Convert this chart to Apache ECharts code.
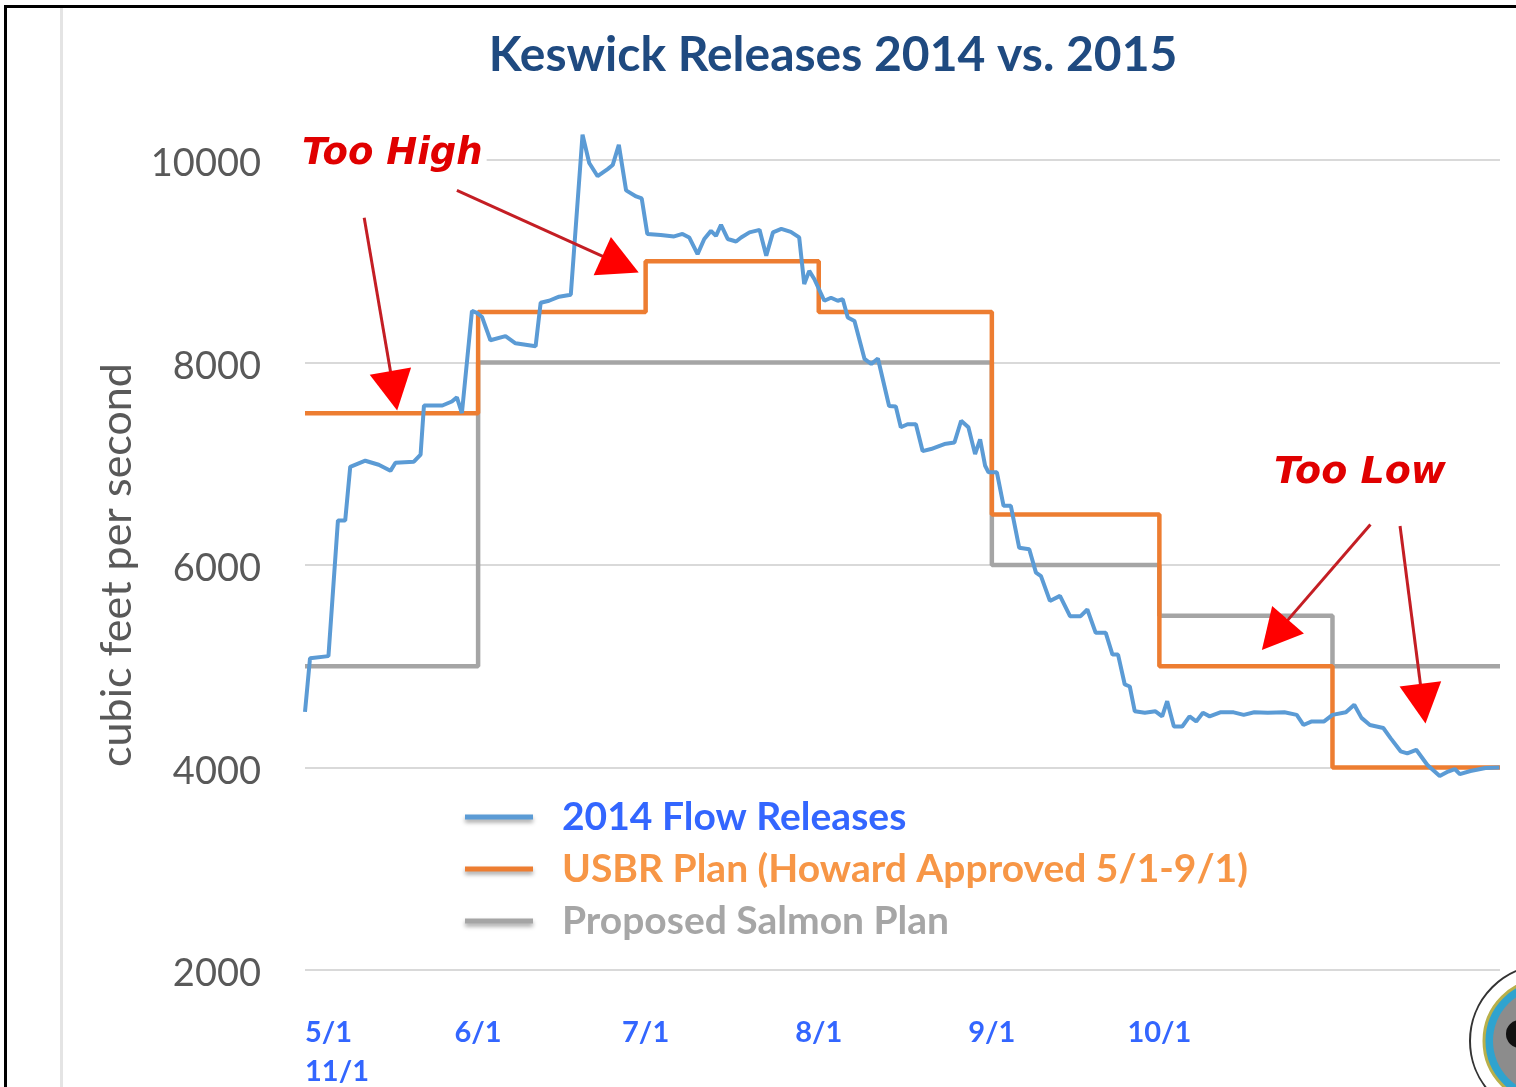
<!DOCTYPE html>
<html>
<head>
<meta charset="utf-8">
<title>Keswick Releases 2014 vs. 2015</title>
<script src="https://cdn.jsdelivr.net/npm/echarts@6/dist/echarts.min.js"></script>
<style>
    html, body { margin: 0; padding: 0; background: #fff; }
    #keswick_chart { width: 1516px; height: 1087px; }
</style>
</head>
<body>
<div id="keswick_chart"></div>
<script>
// x = days counted from 5/1
var tickDays = [0, 31, 61, 92, 123, 153];
var tickLabels = ['5/1\n11/1', '6/1', '7/1', '8/1', '9/1', '10/1'];

// 2014 flow releases
var flowDays = [0, 0.9, 4.2, 5.9, 7.2, 8.1, 10.8, 13.2, 15.3, 16.2, 19.5, 20.7, 21.3, 24.6, 26.3, 27.2, 28.1, 29.9, 30.8, 31.7,
    33.2, 35.9, 37.7, 41.3, 42.2, 43.7, 45.5, 47.6, 49.7, 50.9, 52.4, 54.2, 55.1, 56.2, 57.5, 59.3, 60.3, 61.3, 63.7, 66.1,
    67.6, 68.8, 70.3, 71.5, 72.7, 73.6, 74.5, 75.7, 77.2, 78.1, 79.6, 81.4, 82.6, 83.8, 85.3, 87.0, 88.5, 89.4, 90.3, 91.2,
    93.0, 94.2, 95.4, 96.3, 97.2, 98.4, 100.2, 101.4, 102.6, 104.6, 105.8, 106.7, 107.9, 109.4, 110.6, 112.1, 114.5, 116.3, 117.5, 118.8,
    120.0, 120.9, 121.8, 122.4, 123.9, 125.1, 126.4, 127.9, 129.7, 130.9, 131.8, 133.4, 135.2, 137.0, 138.9, 140.1, 141.6, 143.4, 144.6, 145.6,
    146.8, 147.7, 148.6, 150.4, 152.3, 153.5, 154.4, 155.6, 157.1, 158.4, 159.6, 160.8, 162.0, 163.9, 166.3, 168.1, 170.0, 172.4, 175.4, 177.6,
    178.8, 180.3, 182.5, 184.0, 186.4, 187.9, 189.2, 190.7, 193.1, 194.4, 196.2, 197.4, 199.0, 201.0, 203.2, 204.7, 205.9, 206.8, 208.7, 211.4, 213.9];
var flowCfs = [4550, 5080, 5100, 6440, 6440, 6970, 7030, 6990, 6930, 7010, 7020, 7090, 7575, 7575, 7615, 7655, 7500, 8510, 8490, 8450,
    8220, 8260, 8190, 8160, 8590, 8610, 8650, 8670, 10250, 9970, 9840, 9910, 9950, 10150, 9700, 9640, 9620, 9270, 9260, 9245,
    9270, 9235, 9070, 9220, 9300, 9250, 9360, 9220, 9195, 9235, 9285, 9310, 9055, 9285, 9320, 9290, 9235, 8775, 8905, 8825,
    8610, 8640, 8610, 8625, 8445, 8410, 8035, 7985, 8040, 7570, 7565, 7360, 7390, 7390, 7125, 7145, 7195, 7210, 7425, 7360,
    7095, 7240, 6980, 6915, 6915, 6585, 6585, 6170, 6155, 5925, 5890, 5645, 5695, 5495, 5495, 5560, 5330, 5330, 5115, 5115,
    4820, 4800, 4555, 4540, 4555, 4505, 4655, 4405, 4405, 4505, 4455, 4540, 4505, 4545, 4545, 4520, 4545, 4540, 4545, 4520,
    4420, 4455, 4455, 4520, 4545, 4620, 4490, 4420, 4390, 4290, 4160, 4140, 4175, 4025, 3915, 3960, 3985, 3935, 3965, 3995, 4000];

// monthly plans (5/1 .. 12/1)
var usbrDays = [0, 31, 61, 92, 123, 153, 184, 214];
var usbrCfs = [7500, 8500, 9000, 8500, 6500, 5000, 4000, 4000];
var salmonDays = [0, 31, 123, 153, 184, 214];
var salmonCfs = [5000, 8000, 6000, 5500, 5000, 5000];

function pairs(xs, ys) {
    return xs.map(function (x, i) { return [x, ys[i]]; });
}

// red annotation arrows, [day, cfs] from shaft start to head centre
var arrows = [
    { from: [10.6, 9430], to: [15.9, 7720] },
    { from: [27.2, 9700], to: [56.5, 8970] },
    { from: [190.8, 6400], to: [173.7, 5310] },
    { from: [196.1, 6385], to: [200.2, 4630] }
];

var keswick_el = document.getElementById('keswick_chart');
var keswick_chart = echarts.init(keswick_el);

var option = {
    animation: false,
    title: {
        text: 'Keswick Releases 2014 vs. 2015',
        left: 828,
        top: 27,
        textAlign: 'center',
        textStyle: {
            color: '#1F4A80',
            fontSize: 48,
            fontWeight: 'bold',
            fontFamily: 'Lato'
        }
    },
    legend: {
        orient: 'vertical',
        left: 460,
        top: 792,
        icon: 'rect',
        itemWidth: 68,
        itemHeight: 5,
        itemGap: 12,
        selectedMode: false,
        itemStyle: {
            shadowBlur: 4,
            shadowColor: 'rgba(0,0,0,0.35)',
            shadowOffsetY: 3
        },
        textStyle: {
            fontFamily: 'Lato',
            fontSize: 39,
            fontWeight: 'bold',
            lineHeight: 40,
            padding: [0, 0, 0, 24]
        },
        data: [
            { name: '2014 Flow Releases', textStyle: { color: '#3366FF' } },
            { name: 'USBR Plan (Howard Approved 5/1-9/1)', textStyle: { color: '#F79646' } },
            { name: 'Proposed Salmon Plan', textStyle: { color: '#A6A6A6' } }
        ]
    },
    grid: {
        left: 305,
        right: 16,
        top: 160,
        bottom: 117,
        outerBoundsMode: 'none'
    },
    xAxis: {
        type: 'value',
        min: 0,
        max: 214,
        axisLine: { show: false },
        axisTick: { show: false },
        splitLine: { show: false },
        axisLabel: {
            customValues: tickDays,
            alignMinLabel: 'left',
            formatter: function (v) {
                var i = tickDays.indexOf(v);
                return i < 0 ? '' : tickLabels[i];
            },
            color: '#3366FF',
            fontSize: 29,
            fontWeight: 'bold',
            fontFamily: 'Lato',
            lineHeight: 39,
            margin: 43
        }
    },
    yAxis: {
        type: 'value',
        min: 2000,
        max: 10000,
        interval: 2000,
        name: 'cubic feet per second',
        nameLocation: 'middle',
        nameGap: 166,
        nameTextStyle: {
            color: '#595959',
            fontSize: 43,
            fontFamily: 'Lato'
        },
        axisLine: { show: false },
        axisTick: { show: false },
        axisLabel: {
            formatter: function (v) { return '{n|' + v + '}'; },
            margin: 44,
            rich: {
                n: {
                    color: '#595959',
                    fontSize: 38,
                    fontFamily: 'Lato',
                    padding: [8, 0, 0, 0]
                }
            }
        },
        splitLine: {
            lineStyle: { color: '#D9D9D9', width: 2 }
        }
    },
    graphic: [
        // slide frame
        { type: 'rect', shape: { x: 4, y: 5, width: 1512, height: 3 }, style: { fill: '#000' }, silent: true },
        { type: 'rect', shape: { x: 4, y: 5, width: 3, height: 1082 }, style: { fill: '#000' }, silent: true },
        { type: 'rect', shape: { x: 60, y: 8, width: 3, height: 1079 }, style: { fill: '#E4E4E4' }, silent: true },
        {
            type: 'text', left: 300, top: 134, silent: true, z: 10,
            style: {
                text: 'Too High', fill: '#E00000', font: 'italic bold 37px "DejaVu Sans"',
                backgroundColor: '#fff', padding: [2, 4, 2, 2]
            }
        },
        {
            type: 'text', left: 1274, top: 454, silent: true, z: 10,
            style: { text: 'Too Low', fill: '#E00000', font: 'italic bold 38px "DejaVu Sans"' }
        },
        // corner seal
        { type: 'circle', shape: { cx: 1546, cy: 1041, r: 76 }, style: { fill: '#fff', stroke: '#333', lineWidth: 2 }, silent: true },
        { type: 'circle', shape: { cx: 1546, cy: 1041, r: 62 }, style: { fill: '#2FA3CF', stroke: '#B9B04A', lineWidth: 3 }, silent: true },
        { type: 'circle', shape: { cx: 1546, cy: 1041, r: 53 }, style: { fill: '#8C8C8C' }, silent: true },
        { type: 'circle', shape: { cx: 1520, cy: 1034, r: 14 }, style: { fill: '#111' }, silent: true }
    ],
    series: [
        {
            name: 'Proposed Salmon Plan',
            type: 'line',
            step: 'end',
            data: pairs(salmonDays, salmonCfs),
            showSymbol: false,
            itemStyle: { color: '#A5A5A5' },
            lineStyle: { color: '#A5A5A5', width: 4.5 },
            z: 2
        },
        {
            name: 'USBR Plan (Howard Approved 5/1-9/1)',
            type: 'line',
            step: 'end',
            data: pairs(usbrDays, usbrCfs),
            showSymbol: false,
            itemStyle: { color: '#ED7D31' },
            lineStyle: { color: '#ED7D31', width: 4.5 },
            z: 3
        },
        {
            name: '2014 Flow Releases',
            type: 'line',
            data: pairs(flowDays, flowCfs),
            showSymbol: false,
            clip: false,
            itemStyle: { color: '#5B9BD5' },
            lineStyle: { color: '#5B9BD5', width: 4 },
            z: 4
        },
        {
            name: 'arrowShafts',
            type: 'line',
            data: [],
            z: 5,
            markLine: {
                silent: true,
                symbol: ['none', 'none'],
                label: { show: false },
                lineStyle: { color: '#C41E24', width: 3, type: 'solid' },
                data: arrows.map(function (a) { return [{ coord: a.from }, { coord: a.to }]; })
            }
        },
        {
            name: 'arrowHeads',
            type: 'line',
            data: [],
            z: 6,
            markLine: {
                silent: true,
                symbol: ['none', 'triangle'],
                symbolSize: [42, 40],
                label: { show: false },
                lineStyle: { color: '#FF0000', width: 0, type: 'solid' },
                data: arrows.map(function (a) { return [{ coord: a.from }, { coord: a.to }]; })
            }
        }
    ]
};

option && keswick_chart.setOption(option);
new ResizeObserver(() => keswick_chart.resize()).observe(keswick_el);
</script>
</body>
</html>
